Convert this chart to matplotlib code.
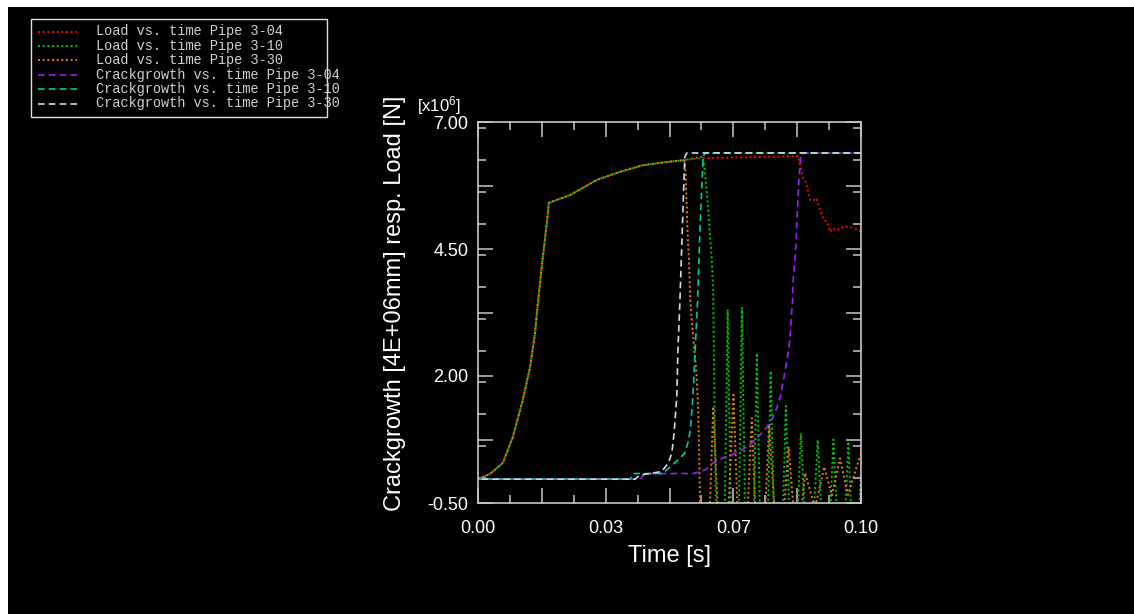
import numpy as np
import matplotlib
matplotlib.use("Agg")
import matplotlib.pyplot as plt
from matplotlib.patches import Rectangle
from matplotlib.lines import Line2D
from matplotlib.ticker import MultipleLocator

plt.rcParams["mathtext.default"] = "regular"

# values, load in 1e6 N, time in s
# the three loads share the same ramp up to ~0.054 s
ramp_t = [0.0, 0.0031, 0.0065, 0.0091, 0.0117, 0.0136, 0.0149, 0.0154, 0.0167, 0.0180, 0.0185,
          0.0240, 0.0310, 0.0371, 0.0431, 0.0501, 0.0539]
ramp_v = [-0.03, 0.07, 0.29, 0.80, 1.53, 2.18, 2.85, 3.26, 4.19, 5.03, 5.41,
          5.56, 5.86, 6.02, 6.15, 6.22, 6.25]

load04_t = [0.0587, 0.0666, 0.0836, 0.0841, 0.0845, 0.0849, 0.0858, 0.0862, 0.0867, 0.0875, 0.0883,
            0.0889, 0.0895, 0.0903, 0.0912, 0.0919, 0.0928, 0.0937, 0.0945, 0.0958, 0.0971, 0.0984,
            0.0996, 0.1]
load04_v = [6.29, 6.30, 6.33, 6.15, 6.00, 5.90, 5.80, 5.63, 5.46, 5.45, 5.50,
            5.37, 5.23, 5.07, 5.04, 4.84, 4.91, 4.86, 4.91, 4.94, 4.93, 4.91,
            4.87, 4.82]

load10_t = [0.0587, 0.0593, 0.0599, 0.0604, 0.0610, 0.0614, 0.0617, 0.0621, 0.0634, 0.0652, 0.0671,
            0.0689, 0.0708, 0.0728, 0.0747, 0.0764, 0.0783, 0.0804, 0.0822, 0.0843, 0.0864, 0.0887,
            0.0909, 0.0928, 0.0948, 0.0967, 0.0984, 0.1]
load10_v = [6.32, 6.00, 5.46, 4.94, 4.35, 3.69, 1.72, -0.5, -6.0, 3.31, -6.0,
            3.35, -6.0, 2.45, -5.0, 2.10, -4.0, 1.41, -3.0, 0.87, -2.5, 0.74,
            -2.5, 0.75, -2.5, 0.71, -2.5, 0.10]

load30_t = [0.0542, 0.0545, 0.0548, 0.0551, 0.0554, 0.0561, 0.0571, 0.0575, 0.0580, 0.0595, 0.0614,
            0.0640, 0.0667, 0.0689, 0.0715, 0.0736, 0.0760, 0.0786, 0.0811, 0.0833, 0.0854, 0.0880,
            0.0904, 0.0924, 0.0945, 0.0966, 0.0997, 0.1]
load30_v = [6.00, 5.33, 4.68, 4.28, 3.50, 2.85, 1.99, 1.33, -0.5, -3.0, 1.40,
            -3.0, 1.63, -3.0, 1.17, -3.0, 1.04, -2.0, 0.61, -1.5, 0.09, -0.6,
            0.21, -0.35, 0.38, -0.34, 0.41, 0.45]

crack04_t = [0.0, 0.0423, 0.0436, 0.0562, 0.0593, 0.0614, 0.0640, 0.0666, 0.0692, 0.0715, 0.0736,
             0.0755, 0.0769, 0.0781, 0.0790, 0.0800, 0.0806, 0.0811, 0.0815, 0.0818, 0.0821, 0.0822,
             0.0830, 0.0832, 0.0838, 0.0843, 0.0849, 0.1]
crack04_v = [-0.03, -0.03, 0.08, 0.08, 0.15, 0.29, 0.39, 0.46, 0.56, 0.68, 0.84,
             1.00, 1.17, 1.39, 1.61, 2.02, 2.28, 2.51, 2.77, 3.17, 3.43, 3.79,
             4.55, 4.94, 5.86, 6.35, 6.39, 6.39]

crack10_t = [0.0, 0.0397, 0.0405, 0.0483, 0.0501, 0.0520, 0.0540, 0.0549, 0.0555, 0.0561, 0.0567,
             0.0573, 0.0580, 0.0588, 0.0593, 0.1]
crack10_v = [-0.03, -0.03, 0.08, 0.08, 0.21, 0.33, 0.48, 0.71, 0.97, 1.59, 2.51,
             3.43, 5.00, 6.32, 6.39, 6.39]

crack30_t = [0.0, 0.0410, 0.0423, 0.0480, 0.0497, 0.0506, 0.0512, 0.0519, 0.0522, 0.0527, 0.0536,
             0.0540, 0.0545, 0.1]
crack30_v = [-0.03, -0.03, 0.05, 0.12, 0.29, 0.48, 0.88, 1.59, 2.51, 3.44, 5.46,
             6.31, 6.39, 6.39]

x_ticks = [0.0, 0.1 / 6, 0.2 / 6, 0.3 / 6, 0.4 / 6, 0.5 / 6, 0.1]
x_ticklabels = ["0.00", "", "0.03", "", "0.07", "", "0.10"]
y_ticks = [-0.5, 0.75, 2.0, 3.25, 4.5, 5.75, 7.0]
y_ticklabels = ["-0.50", "", "2.00", "", "4.50", "", "7.00"]

labels = ["Load vs. time Pipe 3-04", "Load vs. time Pipe 3-10", "Load vs. time Pipe 3-30",
          "Crackgrowth vs. time Pipe 3-04", "Crackgrowth vs. time Pipe 3-10",
          "Crackgrowth vs. time Pipe 3-30"]
colors = ["#ff0000", "#00c800", "#e88010", "#9a20f0", "#00c8a0", "#d8d8d8"]

# dash phases shifted so overlapping curves still show more than one colour
styles = [(0.0, (1, 1.4)), (1.2, (1, 1.4)), (0.0, (1, 1.4)),
          (0.0, (4, 2.5)), (2.2, (4, 2.5)), (4.4, (4, 2.5))]

series = [
    (ramp_t + load04_t, ramp_v + load04_v),
    (ramp_t + load10_t, ramp_v + load10_v),
    (ramp_t + load30_t, ramp_v + load30_v),
    (crack04_t, crack04_v),
    (crack10_t, crack10_v),
    (crack30_t, crack30_v),
]

W, H = 1134, 614
fig = plt.figure(figsize=(W / 100, H / 100), dpi=100, facecolor="white")
fig.add_artist(Rectangle((8 / W, 0), 1, 1 - 7 / H, transform=fig.transFigure,
                         facecolor="black", edgecolor="none", zorder=-10))

ax = fig.add_axes([478 / W, 1 - 503 / H, 383 / W, 381 / H])
ax.set_facecolor("black")

for i, ((t, v), c, ls) in enumerate(zip(series, colors, styles)):
    ax.plot(t, v, color=c, lw=1.4 if i < 3 else 1.2, linestyle=ls)

ax.set_xlim(0, 0.1)
ax.set_ylim(-0.5, 7.0)
ax.set_xticks(x_ticks)
ax.set_xticklabels(x_ticklabels)
ax.set_yticks(y_ticks)
ax.set_yticklabels(y_ticklabels)
ax.xaxis.set_minor_locator(MultipleLocator(0.1 / 12))
ax.yaxis.set_minor_locator(MultipleLocator(0.625))

for s in ax.spines.values():
    s.set_color("#c8c8c8")
    s.set_linewidth(1.2)

ax.tick_params(which="both", direction="in", top=True, right=True, color="#c8c8c8", width=1.1)
ax.tick_params(which="major", length=11)
ax.tick_params(which="minor", length=6)
ax.tick_params(axis="x", which="major", pad=12, labelsize=13, labelcolor="white")
ax.tick_params(axis="y", which="major", pad=7, labelsize=13, labelcolor="white")
for lab in ax.get_xticklabels() + ax.get_yticklabels():
    lab.set_family("Liberation Sans")

fig.text(670 / W, 1 - 556 / H, "Time [s]", color="white", fontsize=17,
         family="Liberation Sans", ha="center", va="center")
fig.text(395 / W, 1 - 303 / H, "Crackgrowth [4E+06mm] resp. Load [N]", color="white",
         fontsize=17, family="Liberation Sans", rotation=90, ha="center", va="center")
fig.text(417 / W, 1 - 111 / H, "[x10$^6$]", color="white", fontsize=12,
         family="Liberation Sans", ha="left", va="baseline")

# legend box drawn by hand, text runs past the right border like in the original
fig.add_artist(Rectangle((31 / W, 1 - 117 / H), 296 / W, 98 / H, transform=fig.transFigure,
                         facecolor="black", edgecolor="#e0e0e0", lw=1.0))
for i, (lab, c) in enumerate(zip(labels, colors)):
    y = 1 - (31.5 + i * 14.4) / H
    ls = (0, (1, 1.4)) if i < 3 else (0, (4, 2.5))
    fig.add_artist(Line2D([38 / W, 77 / W], [y, y], transform=fig.transFigure,
                          color=c, lw=1.4 if i < 3 else 1.2, linestyle=ls))
    fig.text(96 / W, y, lab, color="#d0d0d0", fontsize=9.8, family="Liberation Mono",
             ha="left", va="center")

fig.savefig("out.png", dpi=100, facecolor=fig.get_facecolor())
